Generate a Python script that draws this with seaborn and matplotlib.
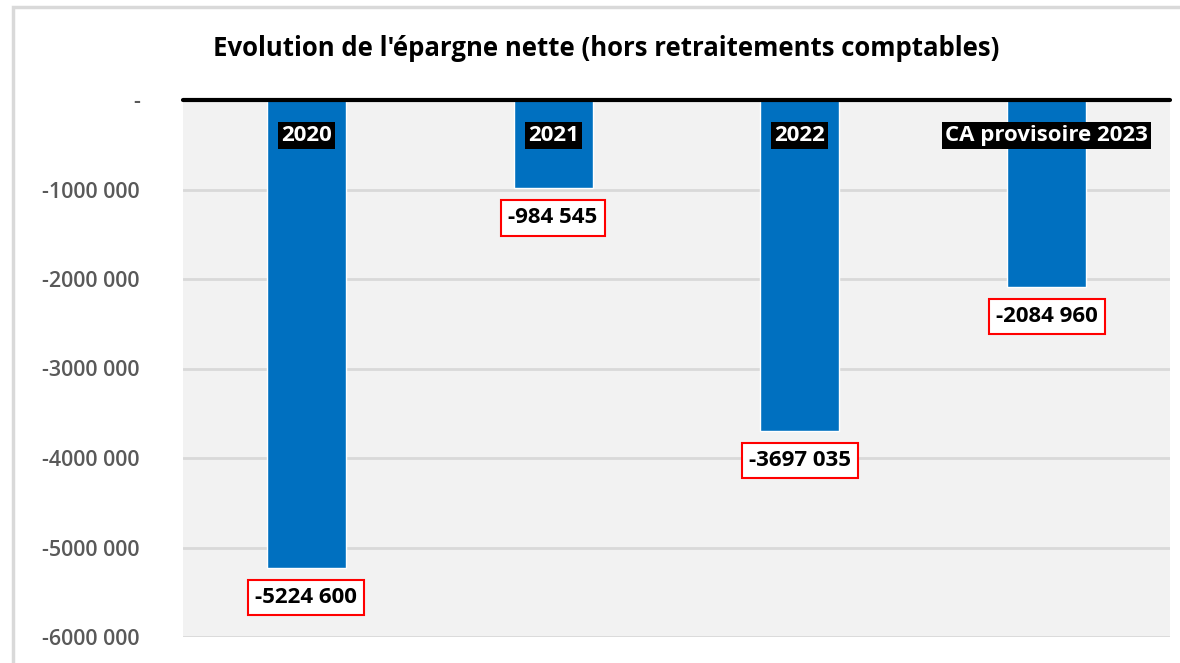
import matplotlib
matplotlib.use('Agg')
import matplotlib.pyplot as plt
from matplotlib.patches import Rectangle
import pandas as pd
import seaborn as sns

# données -------------------------------------------------------------
categories = ['2020', '2021', '2022', 'CA provisoire 2023']
epargne = [-5224600, -984545, -3697035, -2084960]
yticks = [0, -1000000, -2000000, -3000000, -4000000, -5000000, -6000000]

def fmt(v):
    # format type Excel "# ##0" tel qu'affiché: espace seulement avant les 3 derniers chiffres
    if v == 0:
        return '-'
    s = str(abs(int(v)))
    s = s[:-3] + ' ' + s[-3:] if len(s) > 3 else s
    return ('-' if v < 0 else '') + s

df = pd.DataFrame({'annee': categories, 'epargne': epargne})

sns.set_theme(style='white')
plt.rcParams['font.family'] = ['Open Sans', 'DejaVu Sans']

fig = plt.figure(figsize=(11.8, 6.63), dpi=100)
ax = fig.add_axes([183/1180, 1-637/663, (1170-183)/1180, (637-100)/663])
ax.set_facecolor('#f2f2f2')

# cadre extérieur
fig.patches.append(Rectangle((13/1180, -0.1), 1.2, 1-7/663+0.1, transform=fig.transFigure,
                             fill=False, edgecolor='#d9d9d9', lw=2.5, zorder=0))

for t in yticks[1:]:
    ax.axhline(t, color='#d9d9d9', lw=2, zorder=0)

sns.barplot(data=df, x='annee', y='epargne', color='#0070C0', width=0.32,
            saturation=1, ax=ax, zorder=2)

ax.set_ylim(-6000000, 0)
ax.set_xlim(-0.5, 3.5)
ax.set_yticks(yticks)
ax.set_yticklabels([fmt(t) for t in yticks], color='#595959', fontsize=15.5, fontweight='semibold')
ax.tick_params(axis='y', length=0, pad=31)
ax.set_xticks([])
ax.set_xlabel('')
ax.set_ylabel('')
for s in ax.spines.values():
    s.set_visible(False)
ax.axhline(0, color='black', lw=3, zorder=4, clip_on=False)

# étiquettes des catégories et des valeurs
for i, (cat, val) in enumerate(zip(categories, epargne)):
    ax.text(i, -400000, cat, ha='center', va='center', color='white', fontsize=16,
            fontweight='bold', zorder=5,
            bbox=dict(boxstyle='square,pad=0.14', facecolor='black', edgecolor='none'))
    ax.annotate(fmt(val), (i, val), xytext=(0, -21.5), textcoords='offset points',
                ha='center', va='center', color='black', fontsize=16, fontweight='bold',
                zorder=5,
                bbox=dict(boxstyle='square,pad=0.32', facecolor='white', edgecolor='#ff0000', lw=1.5))

fig.text(606/1180, 1-48/663, "Evolution de l'épargne nette (hors retraitements comptables)",
         ha='center', va='center', fontsize=18.5, fontweight='bold', color='black')

fig.savefig('out.png', dpi=100, facecolor='white')
